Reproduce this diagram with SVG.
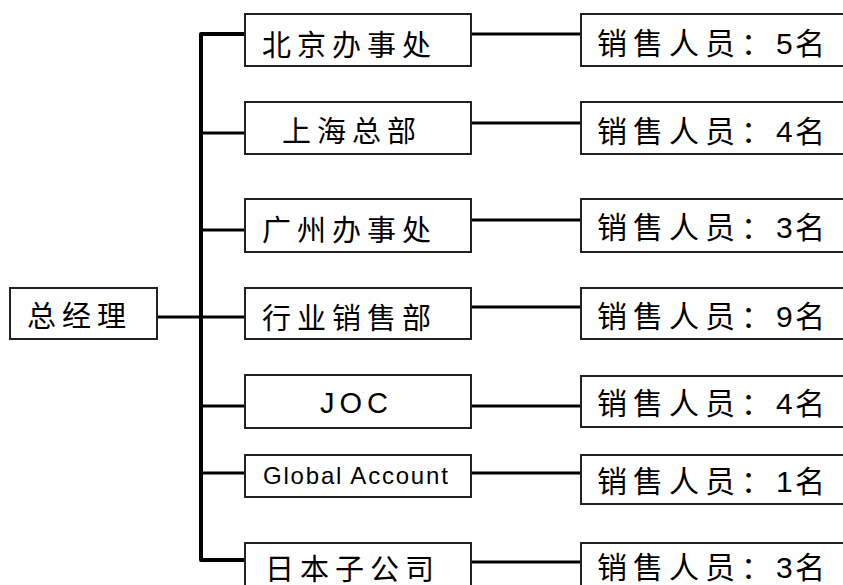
<svg xmlns="http://www.w3.org/2000/svg" width="843" height="585" viewBox="0 0 843 585">
<style>
.box{fill:#fff;stroke:#222;stroke-width:2}
.ln{stroke:#000;stroke-width:3;fill:none}
.tr{stroke:#000;stroke-width:4;fill:none;stroke-linejoin:round}
.cj{font-family:"Liberation Sans","Noto Sans CJK SC",sans-serif;font-size:29px;fill:#000;letter-spacing:6px}
.rt{font-family:"Liberation Sans","Noto Sans CJK SC",sans-serif;font-size:30px;fill:#000}
.lat{font-family:"Liberation Sans",Arial,sans-serif;fill:#000}
</style>
<rect width="843" height="585" fill="#fff"/>
<g id="connectors">
<path class="tr" d="M245,34 H201 V560 H245"/>
<path class="ln" d="M157,317 H201"/>
<path class="ln" d="M201,133 H245 M201,230 H245 M201,317 H245 M201,406 H245 M201,473 H245"/>
<path class="ln" d="M471,34 H581 M471,123 H581 M471,220 H581 M471,307 H581 M471,406 H581 M471,473 H581 M471,562 H581"/>
</g>
<g id="gm"><rect class="box" x="10" y="288" width="147" height="51"/><text class="cj" x="27" y="327">总经理</text></g>
<g id="beijing"><rect class="box" x="245" y="14" width="226" height="52"/><text class="cj" x="262" y="56">北京办事处</text></g>
<g id="shanghai"><rect class="box" x="245" y="102" width="226" height="52"/><text class="cj" x="282" y="142">上海总部</text></g>
<g id="guangzhou"><rect class="box" x="245" y="199" width="226" height="53"/><text class="cj" x="262" y="241">广州办事处</text></g>
<g id="industry"><rect class="box" x="245" y="288" width="226" height="51"/><text class="cj" x="262" y="329">行业销售部</text></g>
<g id="joc"><rect class="box" x="245" y="375" width="226" height="53"/><text class="lat" x="320" y="413" font-size="29" letter-spacing="5">JOC</text></g>
<g id="global"><rect class="box" x="245" y="455" width="226" height="42"/><text class="lat" x="263" y="484" font-size="24" letter-spacing="1.8">Global Account</text></g>
<g id="japan"><rect class="box" x="245" y="543" width="226" height="60"/><text class="cj" x="265" y="580">日本子公司</text></g>
<g id="s1"><rect class="box" x="581" y="14" width="270" height="52"/><text class="rt" x="597 633 669 705 741 776 795" y="54">销售人员：5名</text></g>
<g id="s2"><rect class="box" x="581" y="102" width="270" height="52"/><text class="rt" x="597 633 669 705 741 776 795" y="142">销售人员：4名</text></g>
<g id="s3"><rect class="box" x="581" y="199" width="270" height="53"/><text class="rt" x="597 633 669 705 741 776 795" y="238">销售人员：3名</text></g>
<g id="s4"><rect class="box" x="581" y="288" width="270" height="51"/><text class="rt" x="597 633 669 705 741 776 795" y="327">销售人员：9名</text></g>
<g id="s5"><rect class="box" x="581" y="376" width="270" height="51"/><text class="rt" x="597 633 669 705 741 776 795" y="414">销售人员：4名</text></g>
<g id="s6"><rect class="box" x="581" y="455" width="270" height="49"/><text class="rt" x="597 633 669 705 741 776 795" y="492">销售人员：1名</text></g>
<g id="s7"><rect class="box" x="581" y="543" width="270" height="60"/><text class="rt" x="597 633 669 705 741 776 795" y="578">销售人员：3名</text></g>
</svg>
